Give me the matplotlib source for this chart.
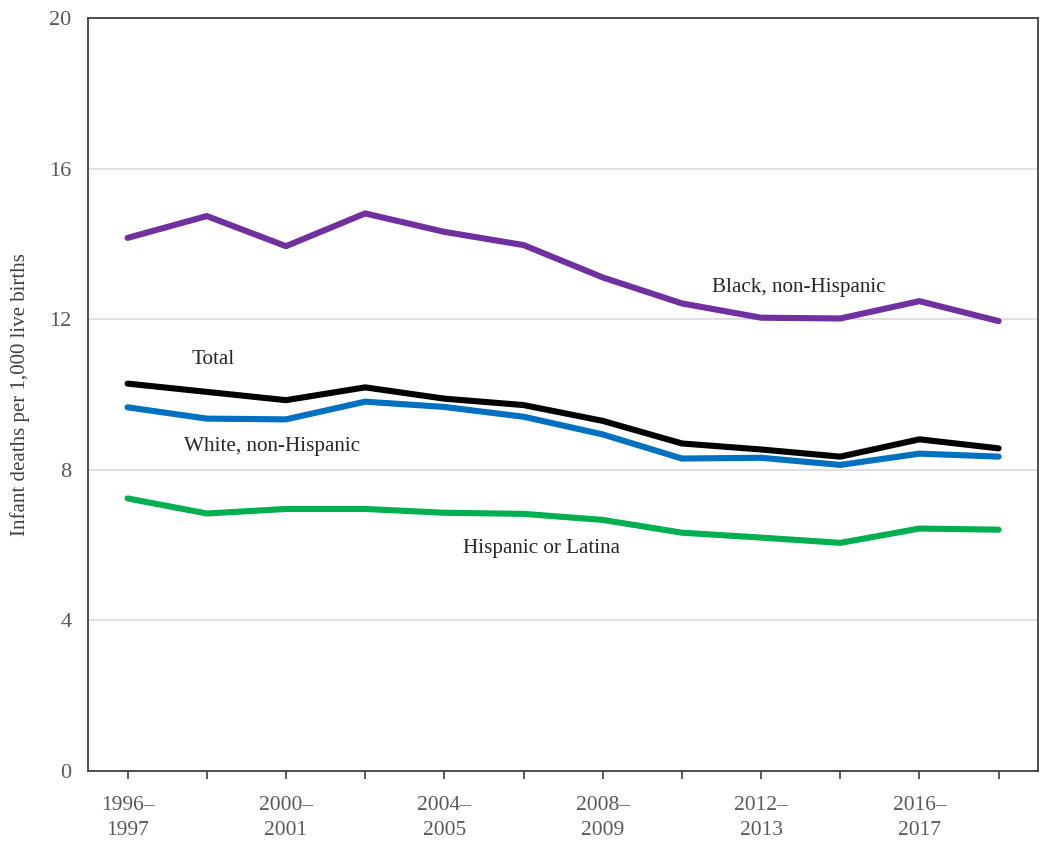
import matplotlib
matplotlib.use("Agg")
import matplotlib.pyplot as plt

plt.rcParams['font.family'] = ['Liberation Serif', 'DejaVu Serif']

# two-year periods, 1996-1997 .. 2018-2019
periods = [f"{y}\u2013\n{y + 1}" for y in range(1996, 2020, 2)]

black = [14.16, 14.74, 13.94, 14.81, 14.32, 13.97, 13.11, 12.42, 12.04, 12.02, 12.48, 11.95]
total = [10.29, 10.07, 9.85, 10.19, 9.89, 9.72, 9.30, 8.70, 8.54, 8.35, 8.81, 8.57]
white = [9.66, 9.36, 9.34, 9.81, 9.67, 9.41, 8.94, 8.30, 8.32, 8.13, 8.43, 8.35]
hispanic = [7.24, 6.84, 6.96, 6.96, 6.86, 6.83, 6.67, 6.33, 6.20, 6.06, 6.44, 6.41]

y_ticks = [0, 4, 8, 12, 16, 20]

fig = plt.figure(figsize=(10.5, 8.42), dpi=100)
ax = fig.add_axes([0.0838, 0.0843, 0.905, 0.8943])

x = list(range(len(periods)))
lw = 4.4
ax.plot(x, black, color="#7030A0", lw=lw, solid_capstyle="round", zorder=3)
ax.plot(x, total, color="#000000", lw=lw, solid_capstyle="round", zorder=3)
ax.plot(x, white, color="#0070C0", lw=lw, solid_capstyle="round", zorder=3)
ax.plot(x, hispanic, color="#00B050", lw=lw, solid_capstyle="round", zorder=3)

# series labels
lab = dict(fontsize=15.2, color="#262626", ha="center", va="center")
ax.text(1.08, 10.92, "Total", **lab)
ax.text(1.82, 8.63, "White, non-Hispanic", **lab)
ax.text(8.48, 12.85, "Black, non-Hispanic", **lab)
ax.text(5.23, 5.92, "Hispanic or Latina", **lab)

ax.set_xlim(-0.5, 11.5)
ax.set_ylim(0, 20)
ax.set_yticks(y_ticks)
ax.set_yticklabels([str(v) for v in y_ticks])
ax.set_xticks(x)
ax.set_xticklabels([p if i % 2 == 0 else "" for i, p in enumerate(periods)],
                   linespacing=1.45)

ax.grid(axis="y", color="#d9d9d9", lw=1.2, zorder=0)
ax.set_axisbelow(True)

for s in ax.spines.values():
    s.set_color("#404040")
    s.set_linewidth(1.3)

ax.tick_params(axis="y", length=0, pad=12, labelsize=16, labelcolor="#595959")
ax.tick_params(axis="x", length=6, width=1.2, color="#404040", pad=12,
               labelsize=15.5, labelcolor="#595959", direction="out")

ax.set_ylabel("Infant deaths per 1,000 live births", fontsize=15, color="#404040",
              labelpad=14)

fig.savefig("out.png", dpi=100)
